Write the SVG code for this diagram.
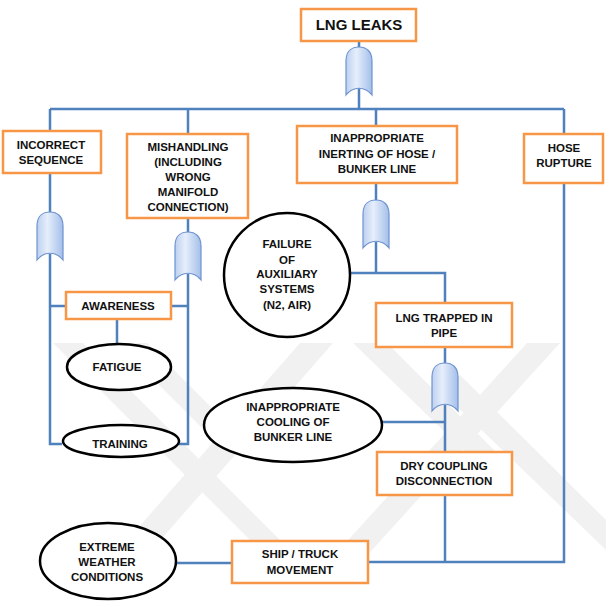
<svg xmlns="http://www.w3.org/2000/svg" width="606" height="601" viewBox="0 0 606 601">
<defs>
<linearGradient id="gg" x1="0" y1="0" x2="1" y2="0">
<stop offset="0" stop-color="#bcd0f0"/>
<stop offset="0.4" stop-color="#e6eefb"/>
<stop offset="1" stop-color="#a4bfea"/>
</linearGradient>
<path id="gate" d="M-13,14 C-13,4 -7,0 0,0 C7,0 13,4 13,14 L13,48 C6,39 -6,39 -13,48 Z"/>
</defs>
<style>
.ln{fill:none;stroke:#4f81bd;stroke-width:2.5}
.bx{fill:#fff;stroke:#f79646;stroke-width:2.5}
.el{fill:#fff;stroke:#000;stroke-width:2.5}
.gt{fill:url(#gg);stroke:#6d93cf;stroke-width:1.2}
.t{font-family:"Liberation Sans",Arial,sans-serif;font-weight:bold;font-size:11.5px;fill:#111;text-anchor:middle}
.wm{fill:#f1f1f1}
</style>
<rect width="606" height="601" fill="#fff"/>
<g id="watermark">
<polygon class="wm" points="53,343 83,343 300,560 270,560"/>
<polygon class="wm" points="117,343 147,343 240,436 225,451"/>
<polygon class="wm" points="300,343 333,343 143,560 110,560"/>
<polygon class="wm" points="353,343 387,343 500,456 485,471"/>
<polygon class="wm" points="440,390 460,375 606,520 606,550"/>
<polygon class="wm" points="527,343 560,343 363,560 330,560"/>
</g>
<g id="connectors">
<path class="ln" d="M359,42 V50 M359,86 V109 M50,109 H564"/>
<path class="ln" d="M50,109 V131 M50,173 V214 M50,254 V444 H62"/>
<path class="ln" d="M188,109 V134 M188,218 V234 M188,274 V444 H179"/>
<path class="ln" d="M50,306 H66 M171,306 H188 M117,319 V344"/>
<path class="ln" d="M376,109 V126 M376,183 V202 M376,242 V273 M351,273 H445 V303"/>
<path class="ln" d="M445,347 V365 M445,405 V452 M382,422 H445"/>
<path class="ln" d="M445,495 V562"/>
<path class="ln" d="M176,563 H231 M368,562 H564 V109"/>
<use href="#gate" class="gt" transform="translate(359,47)"/>
<use href="#gate" class="gt" transform="translate(50,212)"/>
<use href="#gate" class="gt" transform="translate(188,232)"/>
<use href="#gate" class="gt" transform="translate(376,200)"/>
<use href="#gate" class="gt" transform="translate(445,363)"/>
</g>
<g id="lng-leaks"><rect class="bx" x="301" y="9" width="115" height="32"/><text class="t" x="359" y="30" style="font-size:15px">LNG LEAKS</text></g>
<g id="incorrect-sequence"><rect class="bx" x="3" y="131" width="98" height="42"/><text class="t" x="51" y="149">INCORRECT</text><text class="t" x="51" y="164">SEQUENCE</text></g>
<g id="mishandling"><rect class="bx" x="127" y="134" width="121" height="84"/><text class="t" x="188" y="151">MISHANDLING</text><text class="t" x="188" y="166">(INCLUDING</text><text class="t" x="188" y="181">WRONG</text><text class="t" x="188" y="196">MANIFOLD</text><text class="t" x="188" y="211">CONNECTION)</text></g>
<g id="inerting"><rect class="bx" x="297" y="126" width="160" height="57"/><text class="t" x="377" y="142">INAPPROPRIATE</text><text class="t" x="377" y="158">INERTING OF HOSE /</text><text class="t" x="377" y="173">BUNKER LINE</text></g>
<g id="hose-rupture"><rect class="bx" x="524" y="134" width="79" height="49"/><text class="t" x="564" y="152">HOSE</text><text class="t" x="564" y="167">RUPTURE</text></g>
<g id="failure-aux"><ellipse class="el" cx="287" cy="275" rx="63" ry="62"/><text class="t" x="287" y="248">FAILURE</text><text class="t" x="287" y="264">OF</text><text class="t" x="287" y="278">AUXILIARY</text><text class="t" x="287" y="293">SYSTEMS</text><text class="t" x="287" y="309">(N2, AIR)</text></g>
<g id="lng-trapped"><rect class="bx" x="376" y="303" width="136" height="44"/><text class="t" x="444" y="322">LNG TRAPPED IN</text><text class="t" x="444" y="337">PIPE</text></g>
<g id="awareness"><rect class="bx" x="66" y="292" width="105" height="27"/><text class="t" x="118" y="310">AWARENESS</text></g>
<g id="fatigue"><ellipse class="el" cx="119" cy="367" rx="52" ry="23"/><text class="t" x="117" y="371">FATIGUE</text></g>
<g id="training"><ellipse class="el" cx="121" cy="441" rx="58" ry="16"/><text class="t" x="120" y="448">TRAINING</text></g>
<g id="cooling"><ellipse class="el" cx="293" cy="425" rx="89" ry="37"/><text class="t" x="293" y="411">INAPPROPRIATE</text><text class="t" x="293" y="426">COOLING OF</text><text class="t" x="293" y="441">BUNKER LINE</text></g>
<g id="dry-coupling"><rect class="bx" x="377" y="452" width="135" height="43"/><text class="t" x="444" y="470">DRY COUPLING</text><text class="t" x="444" y="485">DISCONNECTION</text></g>
<g id="ship-truck"><rect class="bx" x="232" y="541" width="136" height="42"/><text class="t" x="300" y="558">SHIP / TRUCK</text><text class="t" x="300" y="574">MOVEMENT</text></g>
<g id="extreme-weather"><ellipse class="el" cx="108" cy="561" rx="68" ry="38"/><text class="t" x="107" y="551">EXTREME</text><text class="t" x="107" y="566">WEATHER</text><text class="t" x="107" y="581">CONDITIONS</text></g>
</svg>
